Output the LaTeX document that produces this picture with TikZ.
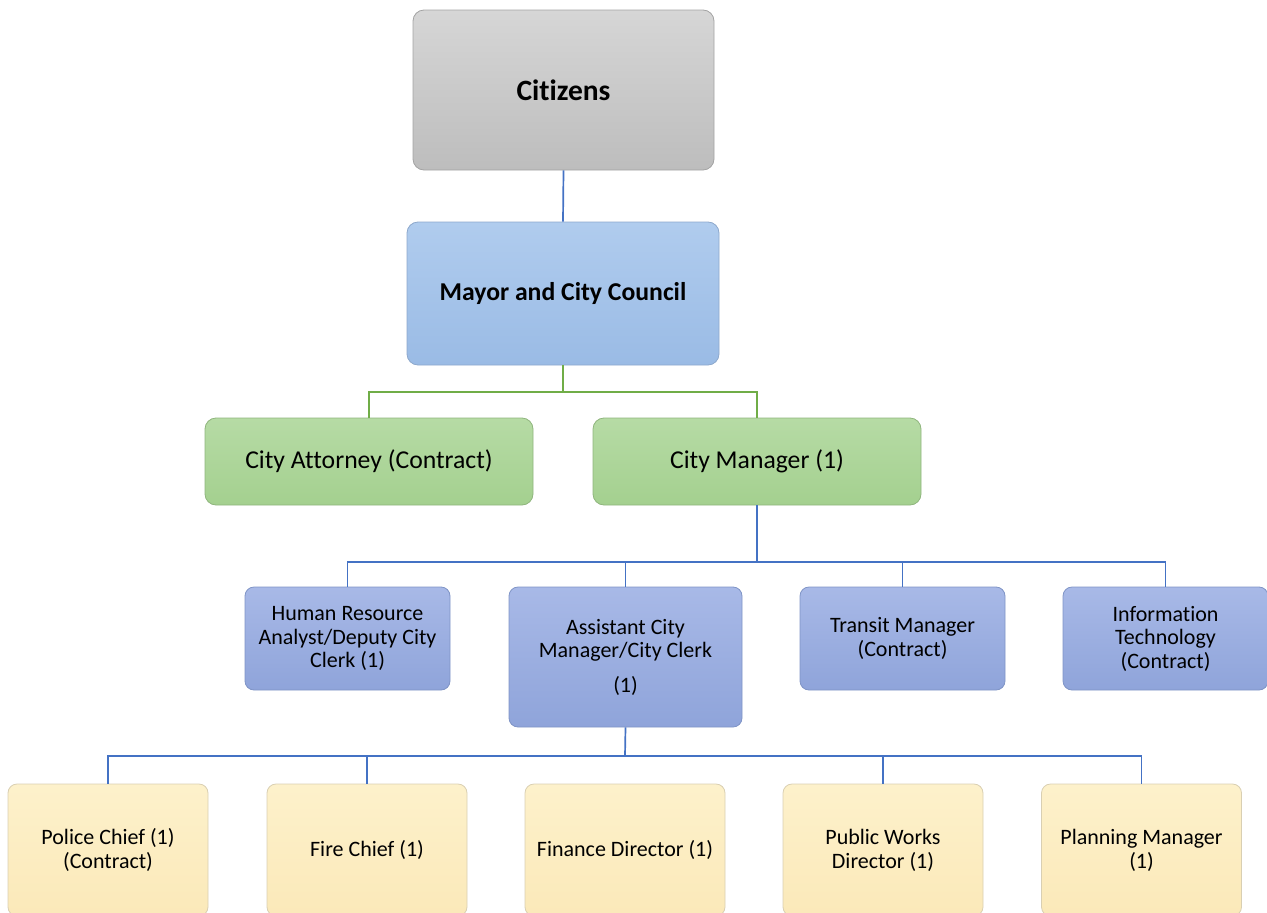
\documentclass[tikz,border=0pt]{standalone}
\usepackage{fontspec}
\setmainfont[Ligatures=NoCommon]{Carlito}
\definecolor{linkblue}{HTML}{4472C4}
\definecolor{linkgreen}{HTML}{70AD47}
\definecolor{grayTop}{HTML}{D6D6D6}
\definecolor{grayBot}{HTML}{BDBDBD}
\definecolor{grayEdge}{HTML}{A3A3A3}
\definecolor{councilTop}{HTML}{B0CCEE}
\definecolor{councilBot}{HTML}{9ABBE5}
\definecolor{councilEdge}{HTML}{8DA8CC}
\definecolor{greenTop}{HTML}{B6DBA5}
\definecolor{greenBot}{HTML}{A4D08F}
\definecolor{greenEdge}{HTML}{8FB57D}
\definecolor{staffTop}{HTML}{A8B9E7}
\definecolor{staffBot}{HTML}{8FA4DA}
\definecolor{staffEdge}{HTML}{7F94C6}
\definecolor{deptTop}{HTML}{FDF1CB}
\definecolor{deptBot}{HTML}{FBE9B9}
\definecolor{deptEdge}{HTML}{D9CFB2}
\begin{document}
\begin{tikzpicture}[x=1pt,y=-1pt,
  box/.style={rounded corners=11pt, draw, line width=0.8pt, align=center,
    inner sep=0pt, text=black},
  topbox/.style={box, minimum width=301pt, minimum height=160pt,
    top color=grayTop, bottom color=grayBot, draw=grayEdge,
    font=\fontsize{29.5}{35}\selectfont\bfseries},
  councilbox/.style={box, minimum width=312pt, minimum height=143pt,
    top color=councilTop, bottom color=councilBot, draw=councilEdge,
    font=\fontsize{25.7}{31}\selectfont\bfseries},
  greenbox/.style={box, minimum width=328pt, minimum height=87pt,
    top color=greenTop, bottom color=greenBot, draw=greenEdge,
    font=\fontsize{25.7}{31}\selectfont},
  staffbox/.style={box, rounded corners=9pt, minimum width=205pt, minimum height=103pt,
    top color=staffTop, bottom color=staffBot, draw=staffEdge,
    font=\fontsize{22}{23.5}\selectfont},
  deptbox/.style={box, rounded corners=9pt, minimum width=200pt, minimum height=132pt,
    top color=deptTop, bottom color=deptBot, draw=deptEdge,
    font=\fontsize{22}{24}\selectfont},
  bluelink/.style={draw=linkblue, line width=1.7pt},
  greenlink/.style={draw=linkgreen, line width=1.7pt}
]
\clip (0,0) rectangle (1267,913);

% boxes
\node[topbox] (citizens) at (563.5,90) {Citizens};
\node[councilbox] (council) at (563,293.5) {Mayor and City Council};

\node[greenbox] (attorney) at (369,461.5) {City Attorney (Contract)};
\node[greenbox] (manager) at (757,461.5) {City Manager (1)};

\node[staffbox] (hr) at (347.5,638.5) {Human Resource\\Analyst/Deputy City\\Clerk (1)};
\node[staffbox, minimum width=233pt, minimum height=140pt] (acm) at (625.5,657)
  {Assistant City\\Manager/City Clerk\\[11pt](1)};
\node[staffbox] (transit) at (902.5,638.5) {Transit Manager\\(Contract)};
\node[staffbox] (it) at (1165.5,638.5) {Information\\Technology\\(Contract)};

\node[deptbox] (police) at (108,850) {Police Chief (1)\\(Contract)};
\node[deptbox] (fire) at (367,850) {Fire Chief (1)};
\node[deptbox] (finance) at (625,850) {Finance Director (1)};
\node[deptbox] (works) at (883,850) {Public Works\\Director (1)};
\node[deptbox] (planning) at (1141.5,850) {Planning Manager\\(1)};

% connectors
\draw[bluelink] (citizens.south) -- (council.north);

\coordinate (gbus) at (563,392);
\draw[greenlink] (council.south) -- (gbus);
\draw[greenlink] (attorney.north) |- (gbus) -| (manager.north);

\coordinate (sbus) at (757,562);
\draw[bluelink] (manager.south) -- (sbus);
\draw[bluelink] (hr.north) |- (sbus) -| (it.north);
\draw[bluelink] (acm.north) -- (acm.north |- sbus);
\draw[bluelink] (transit.north) -- (transit.north |- sbus);

\coordinate (dbus) at (625,756);
\draw[bluelink] (acm.south) -- (dbus);
\draw[bluelink] (police.north) |- (dbus) -| (planning.north);
\draw[bluelink] (fire.north) -- (fire.north |- dbus);
\draw[bluelink] (works.north) -- (works.north |- dbus);
\end{tikzpicture}
\end{document}
